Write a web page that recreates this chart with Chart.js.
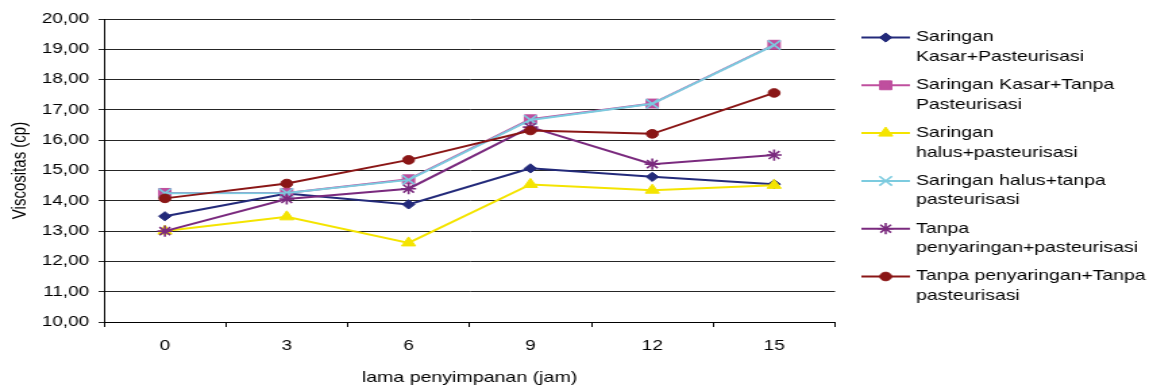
<!DOCTYPE html>
<html>
<head>
<meta charset="utf-8">
<script src="https://cdn.jsdelivr.net/npm/chart.js@4/dist/chart.umd.min.js"></script>
<style>
  html, body { margin: 0; padding: 0; background: #fff; overflow: hidden; }
  /* the chart is laid out on a narrower box and widened horizontally */
  #wrap { position: absolute; left: 0; top: 0; width: 854px; height: 387px;
          transform: scaleX(1.35012); transform-origin: 0 0; }
  canvas { display: block; }
</style>
</head>
<body>
<div id="wrap"><canvas id="chart"></canvas></div>
<script>
// Storage time (hours)
const categories = ['0', '3', '6', '9', '12', '15'];

// Viscosity (cp) for each treatment
const kasarPasteurisasi      = [13.49, 14.24, 13.88, 15.07, 14.79, 14.55];
const kasarTanpaPasteurisasi = [14.26, 14.26, 14.71, 16.69, 17.21, 19.15];
const halusPasteurisasi      = [13.00, 13.47, 12.61, 14.54, 14.35, 14.51];
const halusTanpaPasteurisasi = [14.25, 14.26, 14.69, 16.67, 17.20, 19.14];
const tanpaSaringPasteurisasi      = [13.00, 14.06, 14.40, 16.43, 15.21, 15.51];
const tanpaSaringTanpaPasteurisasi = [14.08, 14.57, 15.35, 16.32, 16.21, 17.56];

const seriesLabels = [
  ['Saringan', 'Kasar+Pasteurisasi'],
  ['Saringan Kasar+Tanpa', 'Pasteurisasi'],
  ['Saringan', 'halus+pasteurisasi'],
  ['Saringan halus+tanpa', 'pasteurisasi'],
  ['Tanpa', 'penyaringan+pasteurisasi'],
  ['Tanpa penyaringan+Tanpa', 'pasteurisasi']
];

const yTickLabels = ['10,00', '11,00', '12,00', '13,00', '14,00', '15,00',
                     '16,00', '17,00', '18,00', '19,00', '20,00'];
const yMin = 10, yMax = 20;

const xTitle = 'lama penyimpanan (jam)';
const yTitle = 'Viscositas (cp)';

const FONT = "'Liberation Sans', Arial, Helvetica, sans-serif";
Chart.defaults.font.family = FONT;
Chart.defaults.color = '#000';

function series(label, data, color, style, radius, bw) {
  return {
    label: label.join(' '),
    legendLines: label,
    data: data,
    borderColor: color,
    backgroundColor: color,
    borderWidth: 2,
    pointStyle: style,
    pointRadius: radius,
    pointHoverRadius: radius,
    pointBorderWidth: bw,
    pointBackgroundColor: color,
    pointBorderColor: color,
    tension: 0,
    fill: false
  };
}

const datasets = [
  series(seriesLabels[0], kasarPasteurisasi, '#232a7a', 'rectRot', 4.6, 1),
  series(seriesLabels[1], kasarTanpaPasteurisasi, '#bf4f9e', 'rect', 6.3, 1),
  series(seriesLabels[2], halusPasteurisasi, '#f4e400', 'triangle', 6, 1),
  series(seriesLabels[3], halusTanpaPasteurisasi, '#7ccbdf', 'crossRot', 6.6, 1.6),
  series(seriesLabels[4], tanpaSaringPasteurisasi, '#7a2a7e', 'star', 5.6, 1.6),
  series(seriesLabels[5], tanpaSaringTanpaPasteurisasi, '#8a1616', 'circle', 4.3, 1)
];
// later series are painted over earlier ones
datasets.forEach((d, i) => { d.order = datasets.length - i; });

// Legend on the right: each entry has a line with its marker and a two-line label
const sideLegend = {
  id: 'sideLegend',
  afterDraw(chart) {
    const ctx = chart.ctx;
    const x0 = 638, x1 = 674, xm = 656, xt = 678.5;
    const top = 37.5, step = 47.8, lineGap = 19.5;
    ctx.save();
    chart.data.datasets.forEach((ds, i) => {
      const y = top + i * step;
      ctx.strokeStyle = ds.borderColor;
      ctx.lineWidth = 2;
      ctx.beginPath();
      ctx.moveTo(x0, y);
      ctx.lineTo(x1, y);
      ctx.stroke();
      ctx.fillStyle = ds.pointBackgroundColor;
      ctx.strokeStyle = ds.pointBorderColor;
      ctx.lineWidth = ds.pointBorderWidth;
      Chart.helpers.drawPoint(ctx, {
        pointStyle: ds.pointStyle,
        radius: ds.pointRadius,
        rotation: 0,
        borderWidth: ds.pointBorderWidth
      }, xm, y);
      ctx.fillStyle = '#000';
      ctx.font = '14.4px ' + FONT;
      ctx.textAlign = 'left';
      ctx.textBaseline = 'middle';
      ds.legendLines.forEach((t, k) => ctx.fillText(t, xt, y + k * lineGap));
    });
    ctx.restore();
  }
};

new Chart(document.getElementById('chart'), {
  type: 'line',
  data: { labels: categories, datasets: datasets },
  plugins: [sideLegend],
  options: {
    responsive: true,
    maintainAspectRatio: false,
    animation: false,
    layout: { padding: { left: 0, right: 235.5, top: 19, bottom: 0 } },
    plugins: { legend: { display: false }, tooltip: { enabled: false } },
    scales: {
      x: {
        type: 'category',
        offset: true,
        grid: { display: true, offset: true, drawOnChartArea: false, drawTicks: true,
                tickLength: 5, color: '#000', lineWidth: 1 },
        border: { display: true, color: '#000', width: 1 },
        ticks: { font: { size: 14 }, color: '#000', padding: 11, maxRotation: 0 },
        title: { display: true, text: xTitle, font: { size: 14.5 }, color: '#000',
                 padding: { top: 0, bottom: 0.5 } },
        afterFit(scale) { scale.height = 65; }
      },
      y: {
        min: yMin, max: yMax,
        grid: { color: '#262626', lineWidth: 1, tickLength: 4, drawTicks: true },
        border: { display: true, color: '#000', width: 1 },
        ticks: {
          stepSize: 1, font: { size: 14 }, color: '#000', padding: 7,
          callback: (v) => yTickLabels[Math.round(v - yMin)]
        },
        title: { display: true, text: yTitle, font: { size: 15 }, color: '#000',
                 padding: { top: 5.5, bottom: 0 } },
        afterFit(scale) { scale.width = 77; }
      }
    }
  }
});
</script>
</body>
</html>
